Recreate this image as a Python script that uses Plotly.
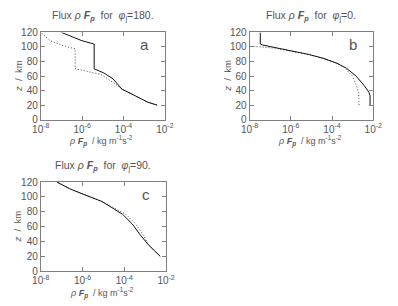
import plotly.graph_objects as go

# ---------------- data ----------------
# Panel a: phi_j = 180
a_solid_z = [20, 24.3, 33.2, 42, 56, 64.2, 70, 104, 108.5, 115, 120]
a_solid_f = [4.17e-3, 1.41e-3, 3.47e-4, 8.3e-5, 3.16e-5, 1.12e-5, 3.8e-6, 3.8e-6, 1.0e-6, 2.4e-7, 1.0e-7]
a_dot_z = [20, 24.3, 33.2, 42, 48.7, 57.5, 62, 66.4, 70, 97.4, 101.8, 108.5, 117, 120]
a_dot_f = [4.17e-3, 1.41e-3, 3.47e-4, 8.3e-5, 4.17e-5, 1.45e-5, 8.3e-6, 1.78e-6, 4.57e-7, 4.57e-7, 1.2e-7, 2.9e-8, 1.2e-8, 1.0e-8]

# Panel b: phi_j = 0
b_solid_z = [20, 33, 37.6, 46.5, 59.8, 70.8, 77.5, 84.1, 89.5, 94.7, 98.3, 102.7, 104, 120]
b_solid_f = [7.0e-3, 7.0e-3, 6.2e-3, 3.7e-3, 1.5e-3, 5.0e-4, 1.74e-4, 4.07e-5, 7.9e-6, 1.0e-6, 1.66e-7, 4.3e-8, 3.3e-8, 3.3e-8]
b_dot_z = [20, 37.6, 48.7, 59.8, 68.6, 73, 77.5, 84.1, 89.5, 94.7, 98.3, 100, 101]
b_dot_f = [2.04e-3, 1.95e-3, 1.45e-3, 1.0e-3, 5.0e-4, 3.55e-4, 1.74e-4, 4.07e-5, 7.9e-6, 1.0e-6, 1.66e-7, 4.0e-8, 1.0e-8]

# Panel c: phi_j = 90
c_solid_z = [20, 35.7, 48.6, 63.6, 76.5, 84.3, 93.8, 102.3, 111, 120]
c_solid_f = [5.25e-3, 1.41e-3, 5.9e-4, 2.4e-4, 8.3e-5, 3.16e-5, 8.5e-6, 1.41e-6, 2.4e-7, 5.9e-8]
c_dot_z = [20, 35.7, 48.6, 63.6, 76.5, 84.3, 93.8, 102.3, 111, 120]
c_dot_f = [5.25e-3, 1.41e-3, 8.3e-4, 3.47e-4, 1.2e-4, 3.55e-5, 8.5e-6, 1.41e-6, 2.4e-7, 5.9e-8]

x_tickvals = [1e-8, 1e-6, 1e-4, 1e-2]
x_ticktext = ["10<sup>-8</sup>", "10<sup>-6</sup>", "10<sup>-4</sup>", "10<sup>-2</sup>"]
y_tickvals = [0, 20, 40, 60, 80, 100, 120]

titles = ["180.", "0.", "90."]
letters = ["a", "b", "c"]

# ---------------- layout helpers ----------------
W, H = 398, 306
TXT = "#555555"
AX = "#808080"
FONT = "Liberation Sans, Arial, sans-serif"

# pixel boxes: (left, right, top, bottom)
boxes = [(33.3, 163.3, 27.5, 118.3), (252.0, 381.5, 27.5, 118.3), (33.3, 164.5, 183.2, 276.0)]

fig = go.Figure()
series = [(a_solid_z, a_solid_f, a_dot_z, a_dot_f),
          (b_solid_z, b_solid_f, b_dot_z, b_dot_f),
          (c_solid_z, c_solid_f, c_dot_z, c_dot_f)]

annotations = []
for i, ((sz, sf, dz, df), (l, r, t, b)) in enumerate(zip(series, boxes)):
    n = "" if i == 0 else str(i + 1)
    xa, ya = "x" + n, "y" + n
    fig.add_trace(go.Scatter(x=df, y=dz, mode="lines", xaxis=xa, yaxis=ya,
                             line=dict(color="#444444", width=1, dash="1px,2px"), showlegend=False))
    fig.add_trace(go.Scatter(x=sf, y=sz, mode="lines", xaxis=xa, yaxis=ya,
                             line=dict(color="#111111", width=1), showlegend=False))
    common = dict(showgrid=False, zeroline=False, showline=True, linecolor=AX, linewidth=1,
                  mirror="ticks", ticks="inside", ticklen=4, tickcolor=AX, tickwidth=1,
                  tickfont=dict(family=FONT, size=10, color=TXT))
    fig.layout["xaxis" + n] = dict(common, type="log", range=[-8, -2], tickvals=x_tickvals,
                                   ticktext=x_ticktext, anchor=ya,
                                   domain=[l / W, r / W])
    fig.layout["yaxis" + n] = dict(common, range=[0, 120], tickvals=y_tickvals, anchor=xa,
                                   domain=[1 - b / H, 1 - t / H])
    cx = (l + r) / 2
    # title
    annotations.append(dict(
        x=cx / W, y=1 - (t - 17) / H, xref="paper", yref="paper", showarrow=False,
        xanchor="center", yanchor="middle",
        text="Flux <i>ρ</i> <b><i>F</i></b><sub><b><i>p</i></b></sub>  for  <i>φ</i><sub>j</sub>=" + titles[i],
        font=dict(family=FONT, size=10.5, color=TXT)))
    # x axis title
    annotations.append(dict(
        x=(cx - 2) / W, y=1 - (b + 22.5) / H, xref="paper", yref="paper", showarrow=False,
        xanchor="center", yanchor="middle",
        text="<i>ρ</i> <b><i>F</i></b><sub><b><i>p</i></b></sub>  / kg m<sup>-1</sup>s<sup>-2</sup>",
        font=dict(family=FONT, size=9, color=TXT)))
    # y axis title
    annotations.append(dict(
        x=(l - 24) / W, y=1 - ((t + b) / 2) / H, xref="paper", yref="paper", showarrow=False,
        xanchor="center", yanchor="middle", textangle=-90,
        text="<i>z</i>  /  km", font=dict(family=FONT, size=9.5, color=TXT)))
    # panel letter
    annotations.append(dict(
        x=(r - 21) / W, y=1 - (t + 13) / H, xref="paper", yref="paper", showarrow=False,
        xanchor="center", yanchor="middle", text=letters[i],
        font=dict(family=FONT, size=15, color=TXT)))

fig.update_layout(width=W, height=H, margin=dict(l=0, r=0, t=0, b=0),
                  paper_bgcolor="white", plot_bgcolor="white",
                  annotations=annotations, showlegend=False)

fig.write_html("out.html")
